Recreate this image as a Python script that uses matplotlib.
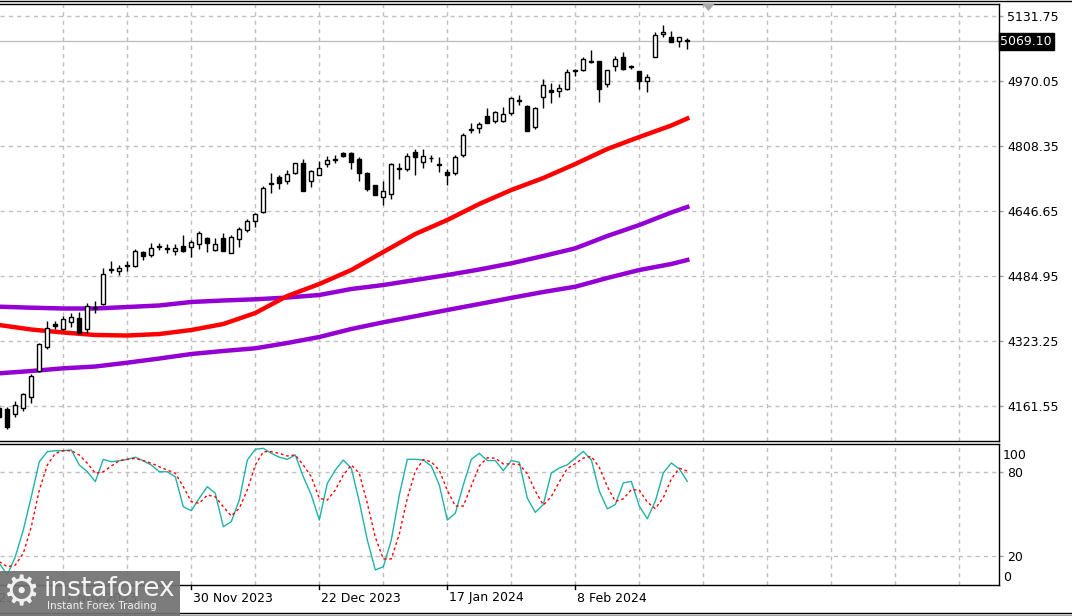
import numpy as np
import matplotlib
matplotlib.use("Agg")
import matplotlib.pyplot as plt
from matplotlib.patches import Rectangle, Polygon
from matplotlib.lines import Line2D
import matplotlib.transforms as mtransforms

plt.rcParams['font.family'] = ['DejaVu Sans']

# ---------------- data (daily bars, oldest first) ----------------
opens = [4155.8, 4153.3, 4141.6, 4155.8, 4183.2, 4249.4, 4309.1, 4365.5, 4352.4, 4371.3,
         4380.5, 4353.9, 4405.3, 4414.5, 4501.1, 4498.1, 4511.0, 4509.1, 4544.7, 4536.4,
         4556.6, 4555.2, 4546.4, 4559.6, 4556.3, 4563.8, 4579.5, 4550.4, 4579.5, 4542.9,
         4576.2, 4598.6, 4622.5, 4644.9, 4714.3, 4730.5, 4722.0, 4740.4, 4766.8, 4720.5,
         4737.0, 4763.6, 4772.3, 4790.2, 4791.7, 4776.8, 4741.2, 4710.6, 4682.2, 4688.9,
         4751.6, 4751.9, 4793.4, 4768.5, 4779.7, 4763.0, 4743.7, 4740.4, 4785.2, 4848.6,
         4852.4, 4883.0, 4869.8, 4869.8, 4889.7, 4919.8, 4907.9, 4856.4, 4929.5, 4946.9,
         4945.9, 4949.4, 4993.7, 4996.7, 5020.5, 5019.1, 4961.8, 5006.6, 5029.0, 5006.9,
         4994.9, 4969.3, 5029.0, 5086.2, 5078.8, 5068.8, 5071.3]
highs = [4164.0, 4159.8, 4174.7, 4194.6, 4241.2, 4317.5, 4373.0, 4372.3, 4385.4, 4392.2,
         4396.1, 4418.5, 4422.0, 4505.6, 4523.0, 4513.1, 4523.0, 4551.4, 4546.4, 4566.3,
         4566.3, 4564.6, 4564.6, 4586.2, 4574.5, 4597.6, 4581.2, 4579.5, 4591.2, 4587.7,
         4606.1, 4627.5, 4642.4, 4708.8, 4740.4, 4737.0, 4748.6, 4766.8, 4775.3, 4748.6,
         4771.8, 4783.5, 4785.2, 4793.4, 4793.4, 4780.2, 4743.7, 4712.1, 4722.0, 4765.3,
         4765.3, 4790.2, 4800.1, 4800.1, 4785.2, 4781.7, 4751.9, 4785.2, 4841.4, 4864.8,
         4868.1, 4902.9, 4894.7, 4904.6, 4931.0, 4934.5, 4909.6, 4904.6, 4974.3, 4964.3,
         4962.6, 4999.9, 5000.6, 5030.5, 5047.2, 5019.1, 4996.7, 5032.2, 5041.4, 5010.6,
         4994.9, 4987.5, 5091.9, 5108.6, 5093.7, 5078.8, 5077.0]
lows = [4131.7, 4103.6, 4135.0, 4149.9, 4169.8, 4246.9, 4304.1, 4352.4, 4350.6, 4357.3,
        4343.9, 4343.9, 4392.2, 4412.8, 4493.2, 4486.7, 4498.1, 4506.6, 4524.8, 4533.0,
        4549.6, 4542.9, 4537.9, 4544.7, 4533.0, 4551.4, 4544.7, 4547.9, 4546.4, 4541.4,
        4557.8, 4594.4, 4606.1, 4640.9, 4690.7, 4702.1, 4713.8, 4738.7, 4697.1, 4705.6,
        4735.5, 4755.4, 4766.8, 4780.2, 4750.4, 4720.5, 4697.1, 4685.7, 4660.8, 4675.8,
        4727.0, 4746.9, 4737.0, 4753.6, 4768.5, 4743.7, 4712.1, 4737.0, 4781.7, 4841.4,
        4841.4, 4864.8, 4866.3, 4868.1, 4884.7, 4911.1, 4844.9, 4851.4, 4902.1, 4914.6,
        4931.0, 4947.7, 4982.5, 4995.7, 5014.1, 4918.6, 4954.4, 4994.9, 4997.4, 5000.6,
        4950.9, 4942.7, 5029.0, 5078.8, 5067.8, 5055.4, 5050.4]
closes = [4135.0, 4110.0, 4163.3, 4190.6, 4236.2, 4315.0, 4354.8, 4360.6, 4378.7, 4382.2,
          4343.9, 4411.1, 4407.8, 4489.2, 4503.6, 4504.9, 4513.5, 4546.4, 4535.4, 4554.6,
          4559.1, 4552.7, 4554.6, 4547.9, 4568.8, 4591.2, 4567.8, 4563.8, 4546.4, 4581.2,
          4601.1, 4621.0, 4639.2, 4703.1, 4716.8, 4717.1, 4738.7, 4765.3, 4697.1, 4745.4,
          4753.6, 4773.5, 4774.8, 4783.5, 4768.5, 4741.9, 4702.1, 4687.2, 4695.7, 4762.8,
          4754.1, 4782.7, 4780.2, 4783.5, 4777.3, 4760.5, 4737.0, 4780.2, 4835.0, 4851.1,
          4863.1, 4864.8, 4892.2, 4888.0, 4927.0, 4922.3, 4846.4, 4902.1, 4959.4, 4942.7,
          4952.6, 4991.7, 4996.2, 5024.0, 5017.3, 4950.9, 4996.7, 5025.5, 5000.6, 5004.4,
          4970.8, 4979.3, 5083.7, 5091.9, 5067.8, 5078.8, 5069.1]

# moving averages, sampled at these bar numbers
ma_idx = [0, 4, 8, 12, 16, 20, 24, 28, 32, 36, 40, 44, 48, 52, 56, 60, 64, 68, 72, 76, 80, 84, 86]
ma_red = [4363.0, 4351.8, 4344.4, 4338.2, 4336.9, 4340.6, 4350.6, 4365.5, 4392.9, 4435.2,
          4465.0, 4499.9, 4544.7, 4589.4, 4624.3, 4664.1, 4698.9, 4728.7, 4763.6, 4800.9,
          4830.7, 4859.3, 4876.8]
ma_violet_fast = [4408.6, 4406.1, 4404.1, 4404.1, 4407.8, 4411.6, 4420.3, 4424.0, 4427.0, 4431.4,
                  4437.7, 4452.6, 4462.5, 4475.0, 4487.4, 4501.1, 4516.5, 4534.7, 4553.8, 4584.5,
                  4611.8, 4642.9, 4656.6]
ma_violet_slow = [4242.9, 4248.6, 4255.3, 4259.8, 4269.3, 4279.7, 4290.9, 4298.4, 4305.1, 4318.3,
                  4333.2, 4353.1, 4369.8, 4384.9, 4400.4, 4415.3, 4430.5, 4445.2, 4458.3, 4480.0,
                  4499.9, 4514.8, 4524.8]

# stochastic oscillator (main and signal), one value per bar
stoch_main = [14.8, 6.4, 19.5, 38.6, 62.5, 87.6, 94.8, 95.5, 95.5, 96.0,
              85.2, 80.4, 73.3, 89.3, 87.6, 88.3, 89.3, 90.8, 88.3, 85.2,
              80.4, 80.4, 76.8, 55.3, 52.5, 61.4, 69.7, 64.9, 41.0, 44.6,
              60.1, 88.8, 96.5, 97.2, 93.6, 90.8, 89.3, 92.4, 76.8, 63.7,
              45.8, 72.1, 81.6, 88.8, 82.9, 58.9, 31.5, 10.0, 12.3, 31.5,
              63.7, 89.3, 89.3, 88.8, 84.5, 70.9, 45.8, 50.6, 70.9, 89.3,
              93.6, 88.4, 88.4, 81.2, 88.4, 87.2, 61.4, 51.3, 56.9, 79.5,
              83.1, 85.4, 90.2, 95.0, 89.0, 66.5, 53.8, 56.9, 72.4, 73.5,
              55.7, 46.7, 59.3, 79.5, 86.7, 82.4, 73.5]
stoch_signal = [15.9, 12.3, 13.5, 21.9, 41.0, 67.3, 85.2, 93.6, 95.5, 95.5,
                92.4, 86.5, 79.3, 80.4, 84.5, 88.3, 89.3, 90.0, 88.3, 86.5,
                84.0, 81.6, 79.3, 69.7, 58.9, 57.8, 63.7, 62.5, 55.3, 48.7,
                54.2, 67.3, 85.2, 94.8, 94.8, 93.6, 91.7, 92.4, 85.2, 76.8,
                61.4, 60.1, 67.3, 78.1, 85.2, 79.3, 57.8, 33.5, 17.9, 17.9,
                35.8, 61.5, 80.8, 89.1, 87.5, 81.4, 67.1, 55.8, 55.8, 70.3,
                84.6, 90.4, 90.1, 86.0, 86.0, 85.6, 79.0, 66.6, 56.5, 62.6,
                73.2, 82.7, 86.2, 90.2, 91.4, 83.5, 69.8, 59.1, 61.0, 67.6,
                67.2, 58.6, 53.9, 61.8, 75.2, 82.9, 80.9]

price_ticks = [5131.75, 4970.05, 4808.35, 4646.65, 4484.95, 4323.25, 4161.55]
last_price = 5069.10
date_idx = [-8, 8, 24, 40, 56, 72]
date_labels = ["16 Oct 2023", "7 Nov 2023", "30 Nov 2023", "22 Dec 2023", "17 Jan 2024", "8 Feb 2024"]

# ---------------- figure ----------------
W, H = 1072, 616
fig = plt.figure(figsize=(W / 100, H / 100), dpi=100, facecolor='white')

def fx(px):
    return px / W

def fy(py):
    return 1 - py / H

main_top, main_bot = 3.5, 441.0
sub_top, sub_bot = 443.5, 585.0
right_px = 999.0

ax = fig.add_axes([0, fy(main_bot), fx(right_px), (main_bot - main_top) / H])
axs = fig.add_axes([0, fy(sub_bot), fx(right_px), (sub_bot - sub_top) / H])

xs = np.arange(len(closes))
x_left, x_right = 0.0875, 124.96

grid_kw = dict(color='#c0c0c0', lw=1, ls=(0, (3, 3)), zorder=0)
vgrid = np.arange(8, 125, 8)

for a in (ax, axs):
    a.set_xlim(x_left, x_right)
    a.set_facecolor('white')
    for v in vgrid:
        a.axvline(v, **grid_kw)
    a.spines['left'].set_visible(False)
    for s in ('top', 'bottom', 'right'):
        a.spines[s].set_color('black')
        a.spines[s].set_linewidth(1)
    a.tick_params(axis='x', which='both', bottom=False, labelbottom=False)
    a.yaxis.tick_right()
    a.tick_params(axis='y', direction='out', length=3, width=1, color='#a0a0a0',
                  labelsize=9, pad=3, labelcolor='black')

# ---------------- main panel ----------------
ax.set_ylim(4074.5, 5162.8)
ax.set_yticks(price_ticks)
ax.set_yticklabels([f"{p:.2f}" for p in price_ticks])
for p in price_ticks:
    ax.axhline(p, **grid_kw)

ax.axhline(last_price, color='#c0c0c0', lw=1, zorder=1)

# moving averages
ax.plot(ma_idx, ma_violet_slow, color='#9400D3', lw=3.2, solid_joinstyle='round', zorder=2)
ax.plot(ma_idx, ma_violet_fast, color='#9400D3', lw=3.2, solid_joinstyle='round', zorder=2)
ax.plot(ma_idx, ma_red, color='#FF0000', lw=3.2, solid_joinstyle='round', zorder=2)

# candles
o = np.array(opens); c = np.array(closes); h = np.array(highs); l = np.array(lows)
ax.vlines(xs, l, h, color='black', lw=1, zorder=3)
up = c >= o
body_w = 0.5
ax.bar(xs[up], np.maximum(c[up] - o[up], 0.3), bottom=o[up], width=body_w,
       facecolor='white', edgecolor='black', lw=1, zorder=4)
ax.bar(xs[~up], np.maximum(o[~up] - c[~up], 0.3), bottom=c[~up], width=body_w,
       facecolor='black', edgecolor='black', lw=1, zorder=4)

# last price label
ax.text(1.0015, last_price, f"{last_price:.2f}", transform=ax.get_yaxis_transform(),
        color='white', fontsize=9, va='center', ha='left', clip_on=False,
        bbox=dict(boxstyle='square,pad=0.15', fc='black', ec='black'), zorder=10)

# chart shift marker
tri = Polygon([[fx(702), fy(3.5)], [fx(715), fy(3.5)], [fx(708.5), fy(11)]], closed=True,
              transform=fig.transFigure, facecolor='#a8a8a8', edgecolor='none', zorder=20)
fig.add_artist(tri)

# ---------------- stochastic panel ----------------
axs.set_ylim(-0.8, 100.65)
axs.set_yticks([80, 20])
axs.set_yticklabels(["80", "20"])
for v in (80, 20):
    axs.axhline(v, **grid_kw)
axs.plot(xs, stoch_main, color='#20B2AA', lw=1, zorder=3)
axs.plot(xs, stoch_signal, color='#FF0000', lw=1, ls=(0, (2, 2)), zorder=3)
ytr = axs.get_yaxis_transform()
axs.text(1.004, 96.5, "100", transform=ytr, fontsize=9, va='top', ha='left', clip_on=False)
axs.text(1.004, 0, "0", transform=ytr, fontsize=9, va='bottom', ha='left', clip_on=False)

# date axis
btr = mtransforms.blended_transform_factory(axs.transData, fig.transFigure)
for di, lab in zip(date_idx, date_labels):
    if x_left <= di <= x_right:
        fig.add_artist(Line2D([di, di], [fy(sub_bot), fy(sub_bot + 4)], transform=btr,
                              color='black', lw=1))
    fig.text(di + 0.2, fy(598), lab, transform=btr, fontsize=9, ha='left', va='center')

# window frame lines
fig.add_artist(Line2D([0, 1], [fy(0.5), fy(0.5)], transform=fig.transFigure, color='black', lw=1))
fig.add_artist(Line2D([0, 1], [fy(612.5), fy(612.5)], transform=fig.transFigure, color='black', lw=1))
fig.add_artist(Line2D([0, 1], [fy(615), fy(615)], transform=fig.transFigure, color='#a0a0a0', lw=1))

# watermark
fig.add_artist(Rectangle((0, fy(616)), fx(180), (616 - 571) / H, transform=fig.transFigure,
                         facecolor='#727272', edgecolor='none', alpha=0.93, zorder=30))
fig.text(fx(2), fy(593), "\u2699", fontsize=30, color='#f0f0f0', ha='left', va='center', zorder=31)
fig.text(fx(44), fy(589), "instaforex", fontsize=19, color='#f4f4f4', ha='left', va='center',
         zorder=31)
fig.text(fx(47), fy(606), "Instant Forex Trading", fontsize=7.5, color='#f0f0f0', ha='left',
         va='center', zorder=31)

fig.savefig("out.png", dpi=100, facecolor='white')
